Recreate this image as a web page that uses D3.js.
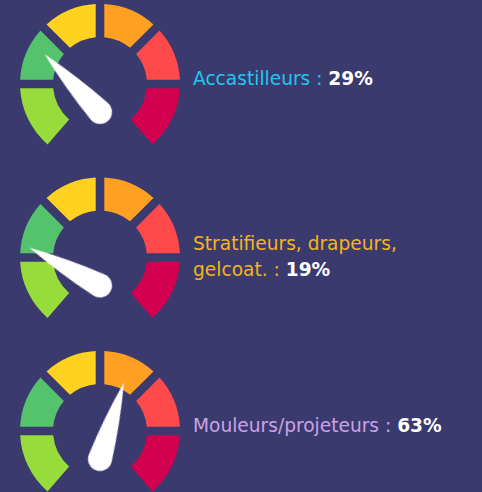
<!DOCTYPE html>
<html>
<head>
<meta charset="utf-8">
<script src="https://cdn.jsdelivr.net/npm/d3@7"></script>
<style>
  html, body { margin: 0; padding: 0; background: #3b3a6f; }
  svg { display: block; }
</style>
</head>
<body>
<script>
// Share of each trade, one gauge per trade
const categories = ["Accastilleurs", "Stratifieurs, drapeurs, gelcoat.", "Mouleurs/projeteurs"];
const labelLines = [["Accastilleurs"], ["Stratifieurs, drapeurs,", "gelcoat."], ["Mouleurs/projeteurs"]];
const values = [29, 19, 63];
const valueLabels = ["29%", "19%", "63%"];
const labelColors = ["#1fc7ef", "#f3b41c", "#c9a2e6"];

// Dial bands, left to right
const bandNames = ["vert clair", "vert", "jaune", "orange", "rouge", "carmin"];
const bandColors = ["#97dc3a", "#55c26c", "#ffd220", "#ffa022", "#ff4a4b", "#d3004f"];

const W = 482, H = 492;
const svg = d3.select("body").append("svg").attr("width", W).attr("height", H);
svg.append("rect").attr("width", W).attr("height", H).attr("fill", "#3b3a6f");

const defs = svg.append("defs");
defs.append("filter").attr("id", "soft")
  .attr("x", "-20%").attr("y", "-20%").attr("width", "140%").attr("height", "140%")
  .append("feGaussianBlur").attr("stdDeviation", 0.6);

const rad = d => d * Math.PI / 180;
// band edges in degrees, measured clockwise from 12 o'clock
const edges = [-139, -90, -45, 0, 45, 90, 139];
const rOut = 80, rIn = 47, halfGap = 4.3;
const needleLen = 80, bulbR = 12;

// gauge vertical positions
const y = d3.scalePoint().domain(categories).range([84, 431]);
// value -> needle angle (deg)
const needleAngle = d3.scaleLinear().domain([0, 100]).range([-96, 84]);

function bandPath(i) {
  const a0 = rad(edges[i]), a1 = rad(edges[i + 1]);
  const g0 = i === 0 ? 0 : 1, g1 = i === bandColors.length - 1 ? 0 : 1;
  const a0o = a0 + g0 * Math.asin(halfGap / rOut), a0i = a0 + g0 * Math.asin(halfGap / rIn);
  const a1o = a1 - g1 * Math.asin(halfGap / rOut), a1i = a1 - g1 * Math.asin(halfGap / rIn);
  const p = d3.path();
  p.moveTo(rOut * Math.sin(a0o), -rOut * Math.cos(a0o));
  p.arc(0, 0, rOut, a0o - Math.PI / 2, a1o - Math.PI / 2, false);
  p.lineTo(rIn * Math.sin(a1i), -rIn * Math.cos(a1i));
  p.arc(0, 0, rIn, a1i - Math.PI / 2, a0i - Math.PI / 2, true);
  p.closePath();
  return p.toString();
}

function needlePath() {
  const L = needleLen, r = bulbR;
  const t = Math.acos(r / L);
  const tx = r * Math.sin(t), ty = -r * Math.cos(t);
  const cx = tx / 2 + 2.6, cy = (ty - L) / 2;
  return `M0,${-L} Q${cx},${cy} ${tx},${ty} A${r},${r} 0 1 1 ${-tx},${ty} Q${-cx},${cy} 0,${-L} Z`;
}

const gauges = svg.selectAll("g.gauge")
  .data(categories.map((c, i) => ({ c, i, v: values[i] })))
  .join("g")
  .attr("class", "gauge")
  .attr("transform", d => `translate(100,${y(d.c)})`);

gauges.selectAll("path.band")
  .data(bandColors.map((col, k) => ({ col, k, name: bandNames[k] })))
  .join("path")
  .attr("class", "band")
  .attr("d", b => bandPath(b.k))
  .attr("fill", b => b.col);

gauges.append("path")
  .attr("class", "needle")
  .attr("d", needlePath())
  .attr("fill", "#ffffff")
  .attr("filter", "url(#soft)")
  .attr("transform", d => `translate(0,28) rotate(${needleAngle(d.v)})`);

// labels
const font = "'Century Gothic','URW Gothic','DejaVu Sans',sans-serif";
const lineH = 26;
gauges.each(function (d) {
  const lines = labelLines[d.i];
  const g = d3.select(this);
  const y0 = lines.length === 1 ? 0.5 : -7.5;
  const txt = g.append("text")
    .attr("x", 93)
    .attr("font-family", font)
    .attr("font-size", 18.6);
  lines.forEach((ln, j) => {
    const last = j === lines.length - 1;
    txt.append("tspan")
      .attr("x", 93)
      .attr("y", y0 + j * lineH)
      .attr("fill", labelColors[d.i])
      .text(last ? ln + " : " : ln);
    if (last) {
      txt.append("tspan")
        .attr("fill", "#ffffff")
        .attr("font-weight", "bold")
        .text(valueLabels[d.i]);
    }
  });
});
</script>
</body>
</html>
